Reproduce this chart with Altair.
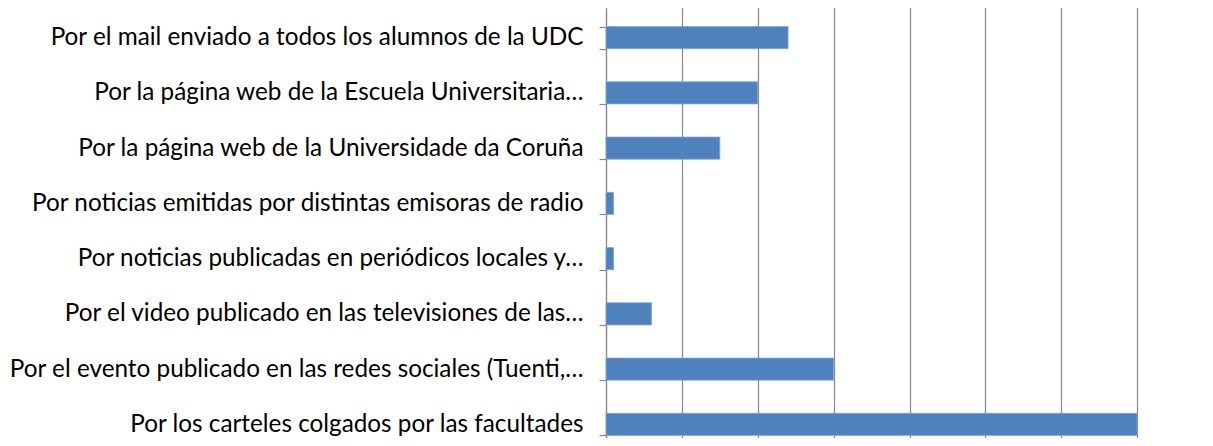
import altair as alt
import pandas as pd

categories = [
    "Por el mail enviado a todos los alumnos de la UDC",
    "Por la página web de la Escuela Universitaria…",
    "Por la página web de la Universidade da Coruña",
    "Por noticias emitidas por distintas emisoras de radio",
    "Por noticias publicadas en periódicos locales y…",
    "Por el video publicado en las televisiones de las…",
    "Por el evento publicado en las redes sociales (Tuenti,…",
    "Por los carteles colgados por las facultades",
]
values = [24, 20, 15, 1, 1, 6, 30, 70]
grid_values = [0, 10, 20, 30, 40, 50, 60, 70, 80]

df = pd.DataFrame({"cat": categories, "val": values})

chart = (
    alt.Chart(df)
    .mark_bar(color="#4F81BD", stroke="#7FA6D6", strokeWidth=0.8)
    .encode(
        x=alt.X(
            "val:Q",
            scale=alt.Scale(domain=[0, 80], nice=False, range=[0, 607]),
            axis=alt.Axis(
                values=grid_values,
                labels=False,
                ticks=False,
                domain=False,
                grid=True,
                gridColor="#868686",
                gridWidth=1.2,
                title=None,
            ),
        ),
        y=alt.Y(
            "cat:N",
            sort=None,
            scale=alt.Scale(paddingInner=0.6, paddingOuter=0.3, range=[0, 442]),
            axis=alt.Axis(
                title=None,
                domainColor="#868686",
                domainWidth=1.2,
                tickColor="#868686",
                tickWidth=1.2,
                tickSize=7,
                tickBand="extent",
                labelPadding=16,
                labelFont="Lato",
                labelFontSize=24.3,
                labelColor="#000000",
                labelLimit=0,
                grid=False,
            ),
        ),
    )
    .properties(
        width=598,
        height=428,
        autosize=alt.AutoSizeParams(type="none"),
        padding={"left": 598, "top": 2, "right": 0, "bottom": 0},
    )
    .configure_view(stroke=None)
)

chart.save("out.html", embed_options={"renderer": "svg", "actions": False})
